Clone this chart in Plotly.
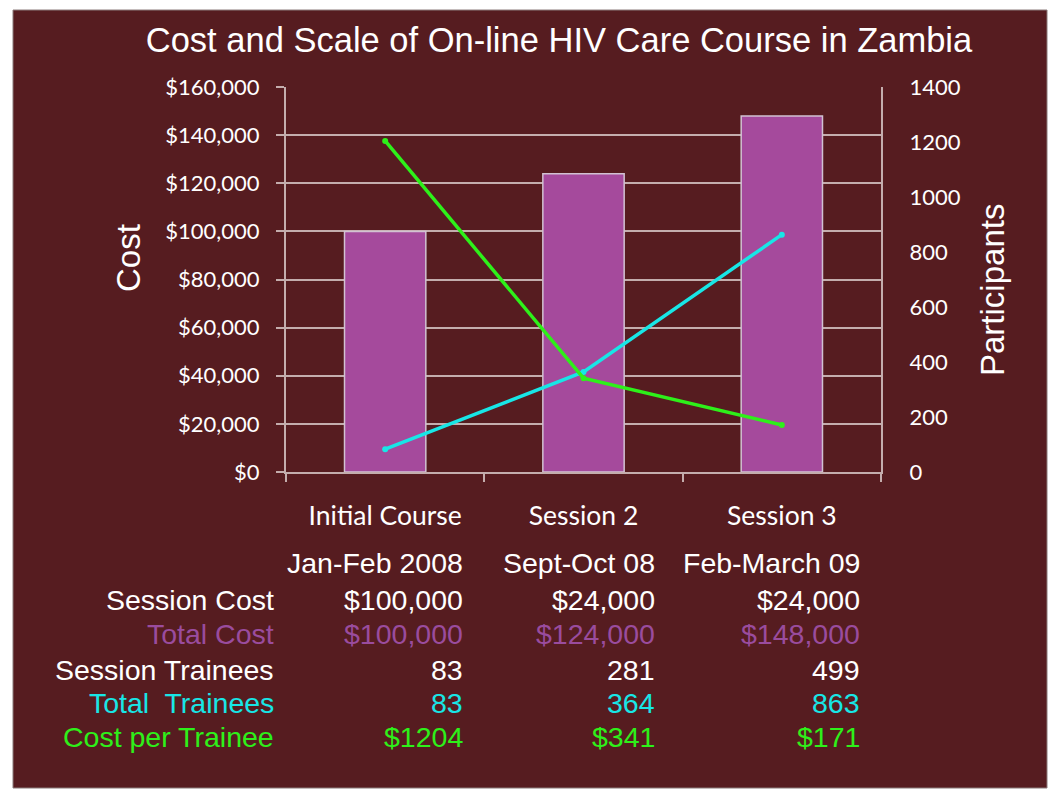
import plotly.graph_objects as go

# ---- data ----
categories = ["Initial Course", "Session 2", "Session 3"]
periods = ["Jan-Feb 2008", "Sept-Oct 08", "Feb-March 09"]
session_cost = [100000, 24000, 24000]
total_cost = [100000, 124000, 148000]
session_trainees = [83, 281, 499]
total_trainees = [83, 364, 863]
cost_per_trainee = [1204, 341, 171]

row_labels = ["Session Cost", "Total Cost", "Session Trainees", "Total\u00a0 Trainees", "Cost per Trainee"]

# ---- style ----
W, H = 1050, 794
L, R, T, B = 286, 881, 87, 472  # plot area in pixels
BG = "#561c20"
PURPLE = "#a54a9c"
CYAN = "#18e6e6"
GREEN = "#2ef01a"
PURPLE_TXT = "#9a4c9e"
GRID = "#c4adad"
SANS = "Arial, Liberation Sans, sans-serif"
HUMAN = "Lato, Open Sans, sans-serif"


def px_x(px):
    return (px - L) / (R - L)


def px_y(py):
    return (B - py) / (B - T)


fig = go.Figure()
fig.add_trace(go.Bar(
    x=categories, y=total_cost, name="Total Cost",
    marker=dict(color=PURPLE, line=dict(color="#d2c2d2", width=1.5)),
    width=0.41,
))
fig.add_trace(go.Scatter(
    x=categories, y=total_trainees, name="Total Trainees", yaxis="y2",
    mode="lines+markers", line=dict(color=CYAN, width=3.5),
    marker=dict(color=CYAN, size=6),
))
fig.add_trace(go.Scatter(
    x=categories, y=cost_per_trainee, name="Cost per Trainee", yaxis="y2",
    mode="lines+markers", line=dict(color=GREEN, width=3.5),
    marker=dict(color=GREEN, size=6),
))

shapes = [dict(
    type="rect", xref="paper", yref="paper",
    x0=px_x(13), x1=px_x(1047), y0=px_y(788), y1=px_y(10),
    fillcolor=BG, line=dict(color="#8a7a7a", width=1), layer="below",
)]

annotations = []
# axis titles
annotations.append(dict(text="Cost", xref="paper", yref="paper", x=px_x(128), y=px_y(258),
                        xanchor="center", yanchor="middle",
                        textangle=-90, showarrow=False, font=dict(family=SANS, size=33, color="white")))
annotations.append(dict(text="Participants", xref="paper", yref="paper", x=px_x(992), y=px_y(290),
                        xanchor="center", yanchor="middle",
                        textangle=-90, showarrow=False, font=dict(family=SANS, size=33, color="white")))

# table
row_y = [563, 600, 634, 670, 703, 737]
col_x = [465, 657, 862]
label_x = 276
fsz = 28.5

rows = [
    ([f"${v:,}" for v in session_cost], "white"),
    ([f"${v:,}" for v in total_cost], PURPLE_TXT),
    ([f"{v}" for v in session_trainees], "white"),
    ([f"{v}" for v in total_trainees], CYAN),
    ([f"${v}" for v in cost_per_trainee], GREEN),
]

for j, p in enumerate(periods):
    annotations.append(dict(text=p, xref="paper", yref="paper", x=px_x(col_x[j]), y=px_y(row_y[0]),
                            xanchor="right", yanchor="middle", showarrow=False,
                            font=dict(family=SANS, size=fsz, color="white")))
for i, (vals, col) in enumerate(rows):
    y = px_y(row_y[i + 1])
    annotations.append(dict(text=row_labels[i], xref="paper", yref="paper", x=px_x(label_x), y=y,
                            xanchor="right", yanchor="middle", showarrow=False,
                            font=dict(family=SANS, size=fsz, color=col)))
    for j, v in enumerate(vals):
        annotations.append(dict(text=v, xref="paper", yref="paper", x=px_x(col_x[j]), y=y,
                                xanchor="right", yanchor="middle", showarrow=False,
                                font=dict(family=SANS, size=fsz, color=col)))

fig.update_layout(
    width=W, height=H,
    margin=dict(l=L, r=W - R, t=T, b=H - B, pad=0),
    paper_bgcolor="white",
    plot_bgcolor="rgba(0,0,0,0)",
    showlegend=False,
    bargap=0.59,
    title=dict(text="Cost and Scale of On-line HIV Care Course in Zambia",
               xref="container", yref="container", x=559 / W, y=1 - 40 / H,
               xanchor="center", yanchor="middle",
               font=dict(family=SANS, size=34.5, color="white")),
    xaxis=dict(
        type="category", showgrid=False, showline=True, linecolor=GRID, linewidth=2,
        ticks="outside", tickson="boundaries", ticklen=8, tickcolor=GRID, tickwidth=2,
        tickfont=dict(family=HUMAN, size=26.5, color="white"),
        ticklabelstandoff=19, zeroline=False,
    ),
    yaxis=dict(
        range=[0, 160000], dtick=20000, tickformat="$,", showgrid=True,
        gridcolor=GRID, gridwidth=2, showline=True, linecolor=GRID, linewidth=2,
        ticks="outside", ticklen=8, tickcolor=GRID, tickwidth=2,
        tickfont=dict(family=HUMAN, size=22, color="white"),
        ticklabelstandoff=12, zeroline=False,
    ),
    yaxis2=dict(
        range=[0, 1400], dtick=200, overlaying="y", side="right",
        showgrid=False, showline=True, linecolor=GRID, linewidth=2, ticks="",
        tickfont=dict(family=HUMAN, size=22, color="white"),
        ticklabelstandoff=22, zeroline=False,
    ),
    shapes=shapes,
    annotations=annotations,
)

fig.write_html("out.html", config={"displayModeBar": False},
               post_script="document.body.style.margin='0';")
